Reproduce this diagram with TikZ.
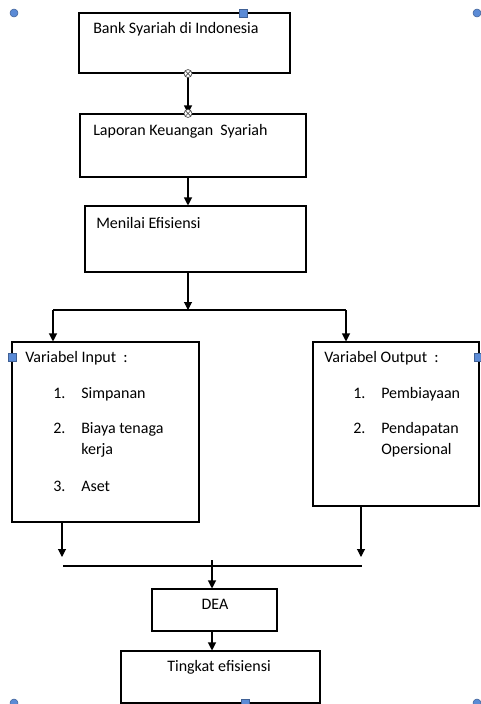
\documentclass[tikz,border=0pt]{standalone}
\usepackage{fontspec}
\setmainfont{Carlito}
\usetikzlibrary{arrows.meta}
\definecolor{handleblue}{HTML}{5B8BD6}
\tikzset{
    box/.style={draw, line width=0.8pt, rectangle, inner sep=0pt},
    txt/.style={anchor=base west, inner sep=0pt, font=\fontsize{12}{14}\selectfont},
    arr/.style={line width=0.8pt, -{Triangle[length=6pt, width=6pt]}},
    conn/.style={line width=0.8pt},
    knob/.style={draw=black!70, fill=white, circle, minimum size=6pt, inner sep=0pt, line width=0.5pt, path picture={
        \draw[black!70, line width=0.5pt] (path picture bounding box.north west) -- (path picture bounding box.south east)
        (path picture bounding box.north east) -- (path picture bounding box.south west);}},
    hsq/.style={draw=handleblue!70!black, fill=handleblue, line width=0.4pt, minimum size=6pt, inner sep=0pt},
    hdot/.style={circle, draw=handleblue!70!black, fill=handleblue, line width=0.4pt, minimum size=6pt, inner sep=0pt}
}
\begin{document}
\begin{tikzpicture}[x=0.75pt, y=-0.75pt]
    \useasboundingbox (0,0) rectangle (480,704);

    % Boxes
    \node[box, minimum width=158.25pt, minimum height=45pt] (bank) at (184.5,43) {};
    \node[box, minimum width=169.5pt, minimum height=47.25pt] (lapor) at (193,145.5) {};
    \node[box, minimum width=165.75pt, minimum height=49.5pt] (nilai) at (195.5,239) {};
    \node[box, minimum width=140.25pt, minimum height=135pt] (input) at (105.5,432) {};
    \node[box, minimum width=124.5pt, minimum height=123pt] (output) at (396,424) {};
    \node[box, minimum width=93.75pt, minimum height=31.5pt] (dea) at (214.5,610) {};
    \node[box, minimum width=149.25pt, minimum height=39pt] (hasil) at (220.5,677) {};

    % Texts
    \node[txt] (tbank) at (93,33) {Bank Syariah di Indonesia};
    \node[txt] (tlapor) at (93,135) {Laporan Keuangan\ \ Syariah};
    \node[txt] (tnilai) at (96,228) {Menilai Efisiensi};

    \node[txt] (tin) at (25,362) {Variabel Input\ \ :};
    \node[txt] (in1n) at (53,398) {1.};
    \node[txt] (in1) at (81,398) {Simpanan};
    \node[txt] (in2n) at (53,433) {2.};
    \node[txt] (in2) at (81,433) {Biaya tenaga};
    \node[txt] (in2b) at (81,454) {kerja};
    \node[txt] (in3n) at (53,491) {3.};
    \node[txt] (in3) at (81,491) {Aset};

    \node[txt] (tout) at (324,362) {Variabel Output\ \ :};
    \node[txt] (out1n) at (353,398) {1.};
    \node[txt] (out1) at (381,398) {Pembiayaan};
    \node[txt] (out2n) at (353,433) {2.};
    \node[txt] (out2) at (381,433) {Pendapatan};
    \node[txt] (out2b) at (381,454) {Opersional};

    \node[txt, anchor=base] (tdea) at (215,609) {DEA};
    \node[txt, anchor=base] (thasil) at (219,671) {Tingkat efisiensi};

    % Connectors top
    \coordinate (axis) at (188,0);
    \draw[arr] (bank.south -| axis) -- (lapor.north -| axis);
    \node[knob] (k1) at (bank.south -| axis) {};
    \node[knob] (k2) at (lapor.north -| axis) {};
    \draw[arr] (lapor.south -| axis) -- (nilai.north -| axis);

    % Split to input / output
    \coordinate (splitL) at (53,310);
    \coordinate (splitM) at (188,310);
    \coordinate (splitR) at (346,310);
    \draw[arr] (nilai.south -| splitM) -- (splitM);
    \draw[conn] (splitL) -- (splitR);
    \draw[arr] (splitL) -- (splitL |- input.north);
    \draw[arr] (splitR) -- (splitR |- output.north);

    % Join to DEA
    \coordinate (joinL) at (63,566);
    \coordinate (joinR) at (362,566);
    \coordinate (tipL) at (62,557);
    \coordinate (tipR) at (361,557);
    \coordinate (joinM) at (212,560);
    \draw[arr] (input.south -| tipL) -- (tipL);
    \draw[arr] (output.south -| tipR) -- (tipR);
    \draw[conn] (joinL) -- (joinR);
    \draw[arr] (joinM) -- (joinM |- dea.north);
    \draw[arr] (dea.south -| joinM) -- (joinM |- hasil.north);

    % Selection handles
    \node[hdot] (h1) at (14,13) {};
    \node[hdot] (h2) at (477,13) {};
    \node[hdot] (h3) at (14,703) {};
    \node[hdot] (h4) at (477,703) {};
    \node[hsq] (h5) at (243,13) {};
    \node[hsq] (h6) at (12,357) {};
    \node[hsq] (h7) at (478,357) {};
    \node[hsq] (h8) at (245,703) {};
\end{tikzpicture}
\end{document}
